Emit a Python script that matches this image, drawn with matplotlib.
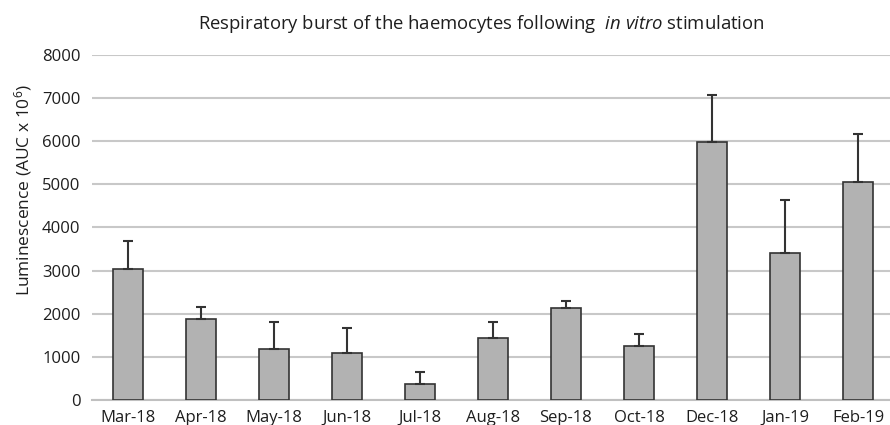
import numpy as np
import matplotlib
matplotlib.use("Agg")
import matplotlib.pyplot as plt

plt.rcParams['font.family'] = ['Open Sans', 'DejaVu Sans']
plt.rcParams['mathtext.fontset'] = 'custom'
plt.rcParams['mathtext.rm'] = 'Open Sans'
plt.rcParams['mathtext.it'] = 'Open Sans:italic'

# data
months = ["Mar-18", "Apr-18", "May-18", "Jun-18", "Jul-18", "Aug-18",
          "Sep-18", "Oct-18", "Dec-18", "Jan-19", "Feb-19"]
means = [3030, 1880, 1190, 1090, 370, 1430, 2130, 1250, 5990, 3400, 5050]
upper = [3690, 2150, 1800, 1660, 650, 1810, 2300, 1530, 7070, 4630, 6160]
errs = [u - m for u, m in zip(upper, means)]

txt = '#1e1e1e'
fig = plt.figure(figsize=(8.9, 4.25), dpi=100)
ax = fig.add_axes([91.5/890, 25/425, 1 - 91.5/890, 345/425])

x = np.arange(len(months))
ax.bar(x, means, width=0.4, color='#b2b2b2', edgecolor='#333333', linewidth=1.2,
       yerr=[np.zeros(len(errs)), errs],
       error_kw=dict(ecolor='#333333', elinewidth=1.5, capsize=3.5, capthick=1.5),
       zorder=3)

ax.set_xlim(-0.5, (890 - 128) / 73)
ax.set_ylim(0, 8000)
ax.set_yticks(range(0, 8001, 1000))
ax.yaxis.grid(True, color='#c8c8c8', linewidth=1.5, zorder=0)
ax.set_xticks(x)
ax.set_xticklabels(months)
for s in ['top', 'right', 'left']:
    ax.spines[s].set_visible(False)
ax.spines['bottom'].set_color('#c0c0c0')
ax.spines['bottom'].set_linewidth(1.5)
ax.tick_params(axis='both', length=0, labelsize=12, colors=txt)
ax.tick_params(axis='y', pad=8)
ax.tick_params(axis='x', pad=7)

fig.text(23/890, 1 - 190/425, r"Luminescence (AUC x 10$^{6}$)", rotation=90,
         ha='center', va='center', fontsize=12.5, color=txt)
fig.text(481/890, 1 - 24/425,
         r"Respiratory burst of the haemocytes following  $\it{in\ vitro}$ stimulation",
         ha='center', va='center', fontsize=13.3, color=txt)

fig.savefig("out.png", dpi=100)
